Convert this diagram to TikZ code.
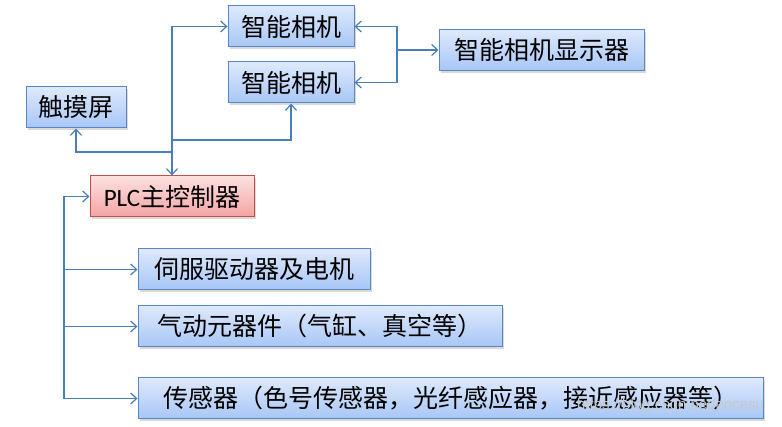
\documentclass[tikz,border=0pt]{standalone}
\usepackage{fontspec}
\setmainfont{Carlito}
\newfontfamily\cjk{Noto Sans CJK SC}
\newfontfamily\filigrane{Liberation Sans}
\usetikzlibrary{arrows.meta,shadows}
\definecolor{bleutrait}{HTML}{4A7EBB}
\definecolor{bleuhaut}{HTML}{DEE9FC}
\definecolor{bleubas}{HTML}{A7C6F6}
\definecolor{bordbleu}{HTML}{5B86C5}
\definecolor{rosehaut}{HTML}{FDE1E1}
\definecolor{rosebas}{HTML}{F4A3A3}
\definecolor{bordrouge}{HTML}{C0504D}

\begin{document}
\begin{tikzpicture}[x=1pt,y=-1pt,
    >={Straight Barb[length=6pt,width=11pt]},
    bloc/.style={draw=bordbleu, line width=1pt, top color=bleuhaut, bottom color=bleubas,
        minimum height=41pt, inner sep=0pt, font=\fontsize{25}{30}\selectfont\cjk,
        drop shadow={shadow xshift=2pt, shadow yshift=-2.5pt, opacity=0.3}},
    blocrouge/.style={bloc, draw=bordrouge, top color=rosehaut, bottom color=rosebas,
        font=\fontsize{25}{30}\selectfont},
    lien/.style={draw=bleutrait, line width=1.2pt}]
            \useasboundingbox (0,0) rectangle (782,427);
            % Les cameras
            \node[bloc, minimum width=126pt] (cam1) at (291,26.5) {智能相机};
            \node[bloc, minimum width=126pt] (cam2) at (291,82.5) {智能相机};
            \node[bloc, minimum width=205pt] (affich) at (541.5,50) {智能相机显示器};
            \node[bloc, minimum width=100pt] (ecran) at (76,107.5) {触摸屏};
            % Le controleur
            \node[blocrouge, minimum width=164pt] (plc) at (172,196.5) {PLC{\cjk 主控制器}};
            % Les peripheriques
            \node[bloc, minimum width=232pt] (servo) at (254,269.5) {伺服驱动器及电机};
            \node[bloc, minimum width=364pt] (pneu) at (320,326.5) {气动元器件（气缸、真空等）};
            \node[bloc, minimum width=625pt] (capteur) at (450.5,398.5) {传感器（色号传感器，光纤感应器，接近感应器等）};
            % Liaisons du haut
            \coordinate (jecran) at (172,152);
            \coordinate (jcam) at (172,140);
            \coordinate (jaffich) at (397,50);
            \draw[lien,<->] (plc.north) |- (cam1.west);
            \draw[lien,->] (jecran) -| (ecran.south);
            \draw[lien,->] (jcam) -| (cam2.south);
            \draw[lien,<->] (cam1.east) -| (jaffich) |- (affich.west);
            \draw[lien,->] (jaffich) |- (cam2.east);
            % Liaisons du bas
            \coordinate (bus) at (64,300);
            \draw[lien,<->] (plc.west) -| (bus) |- (capteur.west);
            \foreach \n in {servo,pneu} {
                \draw[lien,->] (bus |- \n.west) -- (\n.west);
            }
            \node[font=\filigrane\fontsize{15}{18}\selectfont, text=white!78!black, anchor=west, inner sep=0pt] (url) at (577,405.5) {https://blog.csdn.net/encesu};
        \end{tikzpicture}
\end{document}
